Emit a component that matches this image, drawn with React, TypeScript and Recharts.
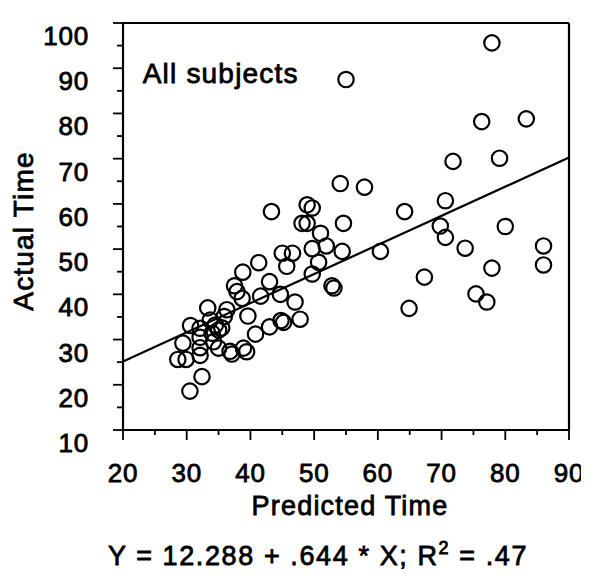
import React from 'react';
import { ScatterChart, Scatter, XAxis, YAxis, ReferenceLine } from 'recharts';

// Predicted Time (x) and Actual Time (y) for all subjects
const predictedTime = [
  55.0, 77.9, 76.3, 83.3, 71.8, 79.1, 54.1, 57.9, 64.2, 70.6,
  54.6, 69.8, 70.6, 80.0, 54.4, 60.4, 73.7, 86.0, 86.0, 77.9,
  67.3, 75.4, 77.1, 64.9, 52.8, 53.1, 43.3, 48.9, 49.7, 48.1,
  48.9, 51.0, 49.7, 51.9, 50.7, 49.7, 45.0, 46.6, 45.7, 41.3,
  38.8, 37.5, 37.9, 38.7, 43.0, 41.6, 44.7, 47.0, 47.8, 44.8,
  45.2, 43.0, 40.8, 39.6, 38.9, 39.4, 36.8, 37.1, 35.0, 36.3,
  33.3, 30.6, 29.4, 28.6, 29.9, 32.1, 32.4, 30.5, 32.1, 32.1,
  33.7, 34.5, 35.0, 35.5, 34.0, 34.2, 32.1, 35.9,
];
const actualTime = [
  87.5, 95.6, 78.2, 78.8, 69.4, 70.1, 64.5, 63.7, 58.3, 60.7,
  55.7, 55.1, 52.6, 55.0, 49.5, 49.5, 50.2, 50.7, 46.5, 45.8,
  43.8, 40.1, 38.3, 36.9, 41.9, 41.4, 58.3, 59.8, 59.1, 55.7,
  55.7, 53.5, 50.1, 50.7, 47.1, 44.5, 49.1, 49.1, 46.2, 47.0,
  44.9, 41.9, 40.6, 39.1, 42.8, 39.6, 40.0, 38.3, 34.5, 34.2,
  33.8, 32.8, 31.2, 35.2, 28.1, 27.3, 27.4, 26.8, 28.1, 36.6,
  37.0, 33.1, 29.2, 25.6, 25.6, 26.5, 21.8, 18.6, 30.5, 32.5,
  34.3, 33.2, 32.1, 32.6, 31.4, 29.5, 28.2, 35.1,
];

const xTicks = [20, 25, 30, 35, 40, 45, 50, 55, 60, 65, 70, 75, 80, 85, 90];
const yTicks = [10, 15, 20, 25, 30, 35, 40, 45, 50, 55, 60, 65, 70, 75, 80, 85, 90, 95, 100];
const xDomain = [20, 90];
const yDomain = [10, 100];

const intercept = 12.288;
const slope = 0.644;
const rSquared = '.47';

const xTitle = 'Predicted Time';
const yTitle = 'Actual Time';
const panelTitle = 'All subjects';

const points = predictedTime.map((x, i) => ({ x, y: actualTime[i] }));
const fitSegment = [
  { x: xDomain[0], y: intercept + slope * xDomain[0] },
  { x: xDomain[1], y: intercept + slope * xDomain[1] },
];

const FONT = '"Liberation Sans", Arial, Helvetica, sans-serif';
const TXT = { fontFamily: FONT, fill: '#000', stroke: '#000', strokeWidth: 0.8 };
const isMajor = (v: number) => v % 10 === 0;

const BottomTick = (p: any) => {
  const { x, y, payload } = p;
  const v = payload.value;
  const major = isMajor(v);
  return (
    <g>
      <line x1={x} y1={y} x2={x} y2={y + (major ? 10 : 5)} stroke="#000" strokeWidth={1.8} />
      {major && (
        <text x={x} y={y + 51.7} textAnchor="middle" fontSize={26} letterSpacing={0.8} {...TXT}>
          {v}
        </text>
      )}
    </g>
  );
};

const TopTick = (p: any) => {
  const { x, y, payload } = p;
  const major = isMajor(payload.value);
  return <line x1={x} y1={y} x2={x} y2={y - (major ? 10 : 5)} stroke="#000" strokeWidth={1.8} />;
};

const LeftTick = (p: any) => {
  const { x, y, payload } = p;
  const v = payload.value;
  const major = isMajor(v);
  return (
    <g>
      <line x1={x} y1={y} x2={x - (major ? 10 : 6)} y2={y} stroke="#000" strokeWidth={1.8} />
      {major && (
        <text x={x - 34} y={y + 22} textAnchor="end" fontSize={26} letterSpacing={0.8} {...TXT}>
          {v}
        </text>
      )}
    </g>
  );
};

const RightTick = (p: any) => {
  const { x, y, payload } = p;
  const major = isMajor(payload.value);
  return <line x1={x} y1={y} x2={x + (major ? 10 : 6)} y2={y} stroke="#000" strokeWidth={1.8} />;
};

const BottomTitle = () => (
  <g>
    <text x={342} y={507} textAnchor="middle" fontSize={27} letterSpacing={1.2} {...TXT}>
      {xTitle}
    </text>
    <text x={310} y={557} textAnchor="middle" fontSize={27} letterSpacing={1.6} {...TXT}>
      {`Y = ${intercept} + ${String(slope).replace(/^0/, '')} * X; R`}
      <tspan fontSize={18} dy={-11}>2</tspan>
      <tspan dy={11}>{` = ${rSquared}`}</tspan>
    </text>
  </g>
);

const LeftTitle = () => (
  <text
    transform="translate(25,223) rotate(-90)"
    textAnchor="middle"
    fontSize={28}
    letterSpacing={1.2}
    {...TXT}
  >
    {yTitle}
  </text>
);

const TopTitle = () => (
  <text x={134.7} y={75.3} textAnchor="start" fontSize={28} letterSpacing={1.2} {...TXT}>
    {panelTitle}
  </text>
);

const Ring = (p: any) => (
  <circle cx={p.cx} cy={p.cy} r={7.7} fill="none" stroke="#000" strokeWidth={2.2} />
);

export default function App() {
  const axisLine = { stroke: '#000', strokeWidth: 2.2 };
  return (
    <ScatterChart width={581} height={575} margin={{ top: 14, left: 114, right: 19, bottom: 152 }}>
      <XAxis
        xAxisId={0}
        dataKey="x"
        type="number"
        domain={xDomain}
        ticks={xTicks}
        interval={0}
        height={1}
        tickSize={0}
        tickMargin={0}
        tickLine={false}
        axisLine={axisLine}
        tick={BottomTick}
        label={<BottomTitle />}
      />
      <XAxis
        xAxisId="top"
        orientation="top"
        type="number"
        domain={xDomain}
        ticks={xTicks}
        interval={0}
        height={1}
        tickSize={0}
        tickMargin={0}
        tickLine={false}
        axisLine={axisLine}
        tick={TopTick}
        label={<TopTitle />}
      />
      <YAxis
        yAxisId={0}
        dataKey="y"
        type="number"
        domain={yDomain}
        ticks={yTicks}
        interval={0}
        width={1}
        tickSize={0}
        tickMargin={0}
        tickLine={false}
        axisLine={axisLine}
        tick={LeftTick}
        label={<LeftTitle />}
      />
      <YAxis
        yAxisId="right"
        orientation="right"
        type="number"
        domain={yDomain}
        ticks={yTicks}
        interval={0}
        width={1}
        tickSize={0}
        tickMargin={0}
        tickLine={false}
        axisLine={axisLine}
        tick={RightTick}
      />
      <ReferenceLine
        xAxisId={0}
        yAxisId={0}
        segment={fitSegment}
        stroke="#000"
        strokeWidth={2.2}
        ifOverflow="visible"
      />
      <Scatter xAxisId={0} yAxisId={0} data={points} shape={Ring} isAnimationActive={false} />
    </ScatterChart>
  );
}
